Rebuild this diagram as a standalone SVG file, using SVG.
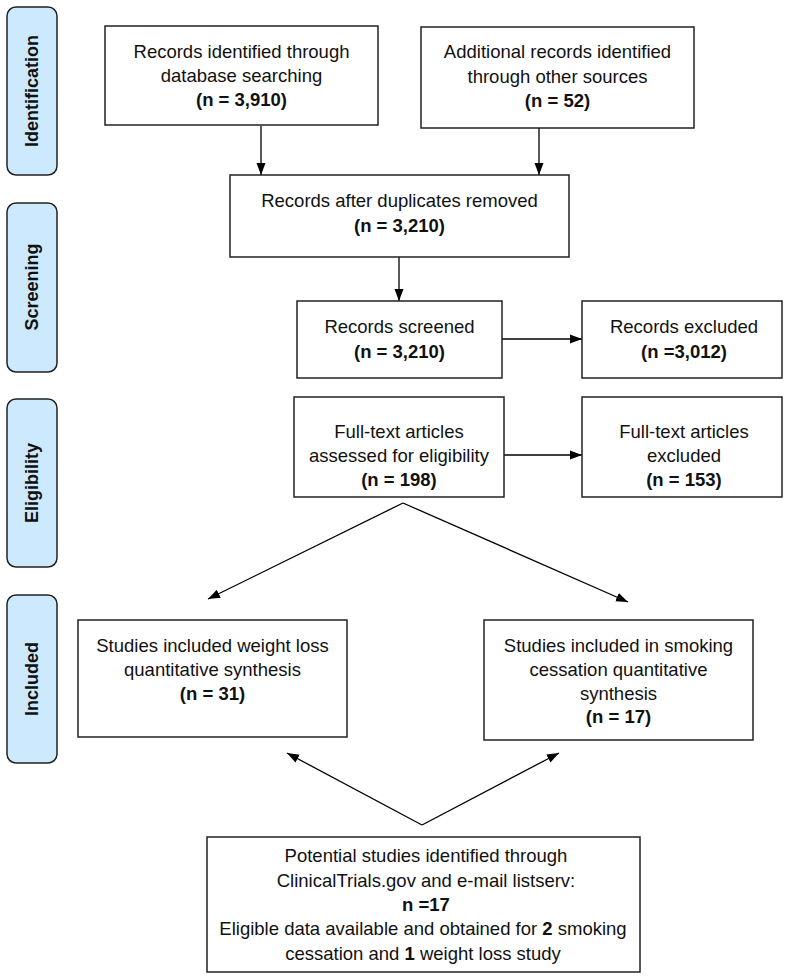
<svg xmlns="http://www.w3.org/2000/svg" width="800" height="979" viewBox="0 0 800 979">
<defs>
<marker id="ah" viewBox="0 0 12 10" refX="12" refY="5" markerWidth="12" markerHeight="10" markerUnits="userSpaceOnUse" orient="auto">
<path d="M0,0.5 L12,5 L0,9.5 Z" fill="#000"/>
</marker>
<style>
.box{fill:#fff;stroke:#222;stroke-width:1.5}
.side{fill:#cce9fd;stroke:#222;stroke-width:1.5}
.t{font-family:"Liberation Sans",Arial,sans-serif;font-size:18.5px;fill:#111;text-anchor:middle}
.b{font-weight:bold}
.st{font-family:"Liberation Sans",Arial,sans-serif;font-size:18px;font-weight:bold;fill:#111;text-anchor:middle}
.c{fill:none;stroke:#000;stroke-width:1.3;marker-end:url(#ah)}
</style>
</defs>
<rect width="800" height="979" fill="#fff"/>

<g id="side-identification">
<rect class="side" x="7" y="7" width="50" height="168" rx="9"/>
<text class="st" transform="translate(38,91) rotate(-90)">Identification</text>
</g>
<g id="side-screening">
<rect class="side" x="7" y="203" width="50" height="169" rx="9"/>
<text class="st" transform="translate(38,287) rotate(-90)">Screening</text>
</g>
<g id="side-eligibility">
<rect class="side" x="7" y="399" width="50" height="168" rx="9"/>
<text class="st" transform="translate(38,483) rotate(-90)">Eligibility</text>
</g>
<g id="side-included">
<rect class="side" x="7" y="595" width="50" height="168" rx="9"/>
<text class="st" transform="translate(38,679) rotate(-90)">Included</text>
</g>

<g id="connectors">
<line class="c" x1="261" y1="126" x2="261" y2="175"/>
<line class="c" x1="539" y1="128" x2="539" y2="175"/>
<line class="c" x1="399" y1="257" x2="399" y2="301"/>
<line class="c" x1="502" y1="339" x2="582" y2="339"/>
<line class="c" x1="504" y1="455" x2="582" y2="455"/>
<polyline class="c" points="403,503 208,599"/>
<polyline class="c" points="403,503 628,602"/>
<polyline class="c" points="422,825 287,753"/>
<polyline class="c" points="422,825 559,753"/>
</g>

<g id="n-db">
<rect class="box" x="105" y="26" width="273" height="99"/>
<text class="t" x="241.5" y="58">Records identified through</text>
<text class="t" x="241.5" y="82">database searching</text>
<text class="t b" x="241.5" y="106">(n = 3,910)</text>
</g>
<g id="n-other">
<rect class="box" x="421" y="27" width="273" height="101"/>
<text class="t" x="557.5" y="58">Additional records identified</text>
<text class="t" x="557.5" y="83">through other sources</text>
<text class="t b" x="557.5" y="107">(n = 52)</text>
</g>
<g id="n-dup">
<rect class="box" x="230" y="175" width="339" height="82"/>
<text class="t" x="399.5" y="207">Records after duplicates removed</text>
<text class="t b" x="399.5" y="232">(n = 3,210)</text>
</g>
<g id="n-screened">
<rect class="box" x="297" y="301" width="205" height="77"/>
<text class="t" x="399.5" y="333">Records screened</text>
<text class="t b" x="399.5" y="358">(n = 3,210)</text>
</g>
<g id="n-excluded">
<rect class="box" x="582" y="301" width="200" height="77"/>
<text class="t" x="684" y="333">Records excluded</text>
<text class="t b" x="684" y="358">(n =3,012)</text>
</g>
<g id="n-fulltext">
<rect class="box" x="294" y="397" width="210" height="100"/>
<text class="t" x="399" y="438">Full-text articles</text>
<text class="t" x="399" y="462">assessed for eligibility</text>
<text class="t b" x="399" y="486">(n = 198)</text>
</g>
<g id="n-ftexcluded">
<rect class="box" x="582" y="397" width="200" height="100"/>
<text class="t" x="684" y="438">Full-text articles</text>
<text class="t" x="684" y="462">excluded</text>
<text class="t b" x="684" y="486">(n = 153)</text>
</g>
<g id="n-weight">
<rect class="box" x="78" y="620" width="269" height="117"/>
<text class="t" x="212.5" y="652">Studies included weight loss</text>
<text class="t" x="212.5" y="676">quantitative synthesis</text>
<text class="t b" x="212.5" y="700">(n = 31)</text>
</g>
<g id="n-smoking">
<rect class="box" x="484" y="620" width="269" height="120"/>
<text class="t" x="618.5" y="652">Studies included in smoking</text>
<text class="t" x="618.5" y="676">cessation quantitative</text>
<text class="t" x="618.5" y="700">synthesis</text>
<text class="t b" x="618.5" y="723">(n = 17)</text>
</g>
<g id="n-potential">
<rect class="box" x="207" y="837" width="433" height="135"/>
<text class="t" x="426" y="862">Potential studies identified through</text>
<text class="t" x="426" y="887">ClinicalTrials.gov and e-mail listserv:</text>
<text class="t b" x="426" y="911">n =17</text>
<text class="t" x="423" y="935">Eligible data available and obtained for <tspan class="b">2</tspan> smoking</text>
<text class="t" x="423" y="960">cessation and <tspan class="b">1</tspan> weight loss study</text>
</g>
</svg>
